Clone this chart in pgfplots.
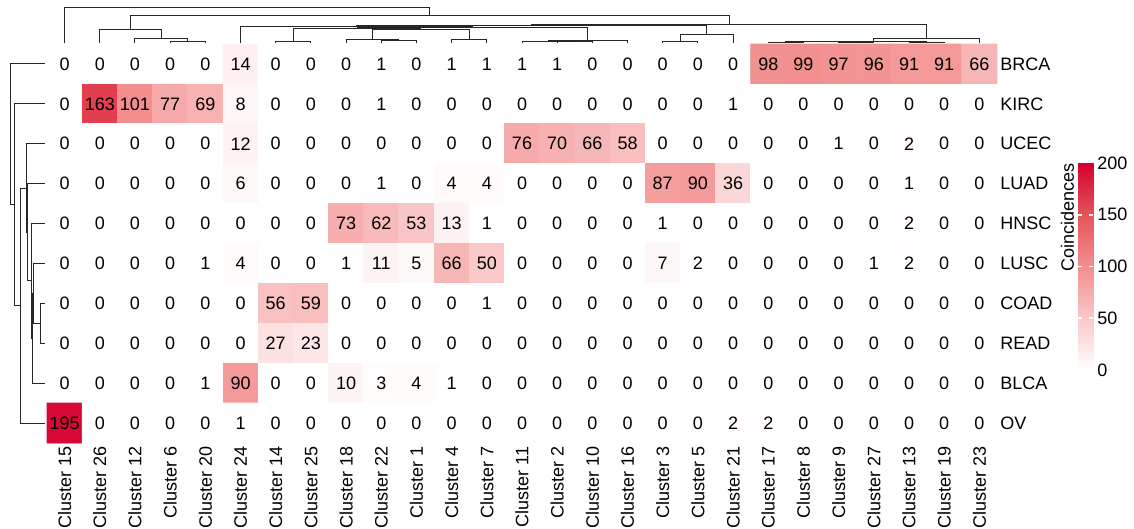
\documentclass[border=0pt]{standalone}
\usepackage{fontspec}
\setmainfont{Liberation Sans}
\usepackage{pgfplots}
\usepackage{pgfplotstable}
\pgfplotsset{compat=1.18}
\pgfplotsset{colormap={wr}{rgb255=(255,255,255) rgb255=(250,200,200) rgb255=(242,143,143) rgb255=(230,83,90) rgb255=(213,0,48)},
  dend/.style={black!85, line width=0.5pt, mark=none, solid}}
% heatmap values: x = column (Cluster order left to right), y = row (BRCA..OV top to bottom)
\pgfplotstableread[row sep=\\]{
x y v\\
0 0 0\\1 0 0\\2 0 0\\3 0 0\\4 0 0\\5 0 14\\6 0 0\\7 0 0\\8 0 0\\9 0 1\\10 0 0\\11 0 1\\12 0 1\\13 0 1\\14 0 1\\15 0 0\\16 0 0\\17 0 0\\18 0 0\\19 0 0\\20 0 98\\21 0 99\\22 0 97\\23 0 96\\24 0 91\\25 0 91\\26 0 66\\
0 1 0\\1 1 163\\2 1 101\\3 1 77\\4 1 69\\5 1 8\\6 1 0\\7 1 0\\8 1 0\\9 1 1\\10 1 0\\11 1 0\\12 1 0\\13 1 0\\14 1 0\\15 1 0\\16 1 0\\17 1 0\\18 1 0\\19 1 1\\20 1 0\\21 1 0\\22 1 0\\23 1 0\\24 1 0\\25 1 0\\26 1 0\\
0 2 0\\1 2 0\\2 2 0\\3 2 0\\4 2 0\\5 2 12\\6 2 0\\7 2 0\\8 2 0\\9 2 0\\10 2 0\\11 2 0\\12 2 0\\13 2 76\\14 2 70\\15 2 66\\16 2 58\\17 2 0\\18 2 0\\19 2 0\\20 2 0\\21 2 0\\22 2 1\\23 2 0\\24 2 2\\25 2 0\\26 2 0\\
0 3 0\\1 3 0\\2 3 0\\3 3 0\\4 3 0\\5 3 6\\6 3 0\\7 3 0\\8 3 0\\9 3 1\\10 3 0\\11 3 4\\12 3 4\\13 3 0\\14 3 0\\15 3 0\\16 3 0\\17 3 87\\18 3 90\\19 3 36\\20 3 0\\21 3 0\\22 3 0\\23 3 0\\24 3 1\\25 3 0\\26 3 0\\
0 4 0\\1 4 0\\2 4 0\\3 4 0\\4 4 0\\5 4 0\\6 4 0\\7 4 0\\8 4 73\\9 4 62\\10 4 53\\11 4 13\\12 4 1\\13 4 0\\14 4 0\\15 4 0\\16 4 0\\17 4 1\\18 4 0\\19 4 0\\20 4 0\\21 4 0\\22 4 0\\23 4 0\\24 4 2\\25 4 0\\26 4 0\\
0 5 0\\1 5 0\\2 5 0\\3 5 0\\4 5 1\\5 5 4\\6 5 0\\7 5 0\\8 5 1\\9 5 11\\10 5 5\\11 5 66\\12 5 50\\13 5 0\\14 5 0\\15 5 0\\16 5 0\\17 5 7\\18 5 2\\19 5 0\\20 5 0\\21 5 0\\22 5 0\\23 5 1\\24 5 2\\25 5 0\\26 5 0\\
0 6 0\\1 6 0\\2 6 0\\3 6 0\\4 6 0\\5 6 0\\6 6 56\\7 6 59\\8 6 0\\9 6 0\\10 6 0\\11 6 0\\12 6 1\\13 6 0\\14 6 0\\15 6 0\\16 6 0\\17 6 0\\18 6 0\\19 6 0\\20 6 0\\21 6 0\\22 6 0\\23 6 0\\24 6 0\\25 6 0\\26 6 0\\
0 7 0\\1 7 0\\2 7 0\\3 7 0\\4 7 0\\5 7 0\\6 7 27\\7 7 23\\8 7 0\\9 7 0\\10 7 0\\11 7 0\\12 7 0\\13 7 0\\14 7 0\\15 7 0\\16 7 0\\17 7 0\\18 7 0\\19 7 0\\20 7 0\\21 7 0\\22 7 0\\23 7 0\\24 7 0\\25 7 0\\26 7 0\\
0 8 0\\1 8 0\\2 8 0\\3 8 0\\4 8 1\\5 8 90\\6 8 0\\7 8 0\\8 8 10\\9 8 3\\10 8 4\\11 8 1\\12 8 0\\13 8 0\\14 8 0\\15 8 0\\16 8 0\\17 8 0\\18 8 0\\19 8 0\\20 8 0\\21 8 0\\22 8 0\\23 8 0\\24 8 0\\25 8 0\\26 8 0\\
0 9 195\\1 9 0\\2 9 0\\3 9 0\\4 9 0\\5 9 1\\6 9 0\\7 9 0\\8 9 0\\9 9 0\\10 9 0\\11 9 0\\12 9 0\\13 9 0\\14 9 0\\15 9 0\\16 9 0\\17 9 0\\18 9 0\\19 9 2\\20 9 2\\21 9 0\\22 9 0\\23 9 0\\24 9 0\\25 9 0\\26 9 0\\
}\heat
\newcommand{\fs}{\fontsize{9}{10.8}\selectfont}
\begin{document}
\begin{tikzpicture}
\useasboundingbox (0,0) rectangle (567pt,264.5pt);
% heatmap
\begin{axis}[at={(23.5pt,43pt)}, anchor=south west, scale only axis,
  width=475pt, height=199.5pt,
  xmin=-0.5, xmax=26.5, ymin=-0.5, ymax=9.5, y dir=reverse,
  axis line style={draw=none}, major tick length=0pt,
  font=\fs,
  xtick={0,...,26},
  xticklabels={Cluster 15,Cluster 26,Cluster 12,Cluster 6,Cluster 20,Cluster 24,Cluster 14,Cluster 25,Cluster 18,Cluster 22,Cluster 1,Cluster 4,Cluster 7,Cluster 11,Cluster 2,Cluster 10,Cluster 16,Cluster 3,Cluster 5,Cluster 21,Cluster 17,Cluster 8,Cluster 9,Cluster 27,Cluster 13,Cluster 19,Cluster 23},
  xticklabel style={rotate=90, anchor=east, inner sep=1.5pt, font=\fs},
  ytick={0,...,9},
  yticklabels={BRCA,KIRC,UCEC,LUAD,HNSC,LUSC,COAD,READ,BLCA,OV},
  yticklabel pos=right,
  yticklabel style={anchor=west, inner sep=1.5pt, font=\fs},
  colormap name=wr, point meta min=0, point meta max=200, clip=false]
\addplot[matrix plot*, mesh/cols=27, point meta=explicit]
  table[x=x, y=y, meta=v] {\heat};
\addplot[only marks, mark=none, point meta=explicit symbolic,
  nodes near coords, every node near coord/.append style={anchor=center, inner sep=0pt, font=\fs, text=black}]
  table[x=x, y=y, meta=v] {\heat};
\end{axis}
% colour bar
\begin{axis}[at={(539pt,79.5pt)}, anchor=south west, scale only axis,
  width=7.5pt, height=103.5pt, xmin=0, xmax=1, ymin=0, ymax=200,
  colormap name=wr, point meta min=0, point meta max=200,
  axis line style={draw=none}, xtick=\empty,
  ytick={0,50,100,150,200}, yticklabels={0,50,100,150,200},
  yticklabel pos=right, ytick pos=both, major tick length=0pt,
  yticklabel style={anchor=west, inner sep=2pt, font=\fs},
  extra y ticks={50,100,150}, extra y tick labels={},
  extra y tick style={major tick length=2pt, tick align=inside, tick style={white, line width=0.8pt}},
  axis on top]
\addplot[surf, shader=interp, mesh/cols=2, point meta=y] coordinates {(0,0) (1,0) (0,50) (1,50) (0,100) (1,100) (0,150) (1,150) (0,200) (1,200)};
\end{axis}
\node[rotate=90, anchor=east, font=\fs, inner sep=0pt] at (533.75pt,183pt) {Coincidences};
% dendrograms (pixel coordinates of the figure)
\begin{axis}[at={(0pt,0pt)}, anchor=south west, scale only axis,
  width=567pt, height=264.5pt, xmin=0, xmax=1134, ymin=0, ymax=529, y dir=reverse,
  hide axis, clip=false]
% column dendrogram
\addplot[dend] coordinates {(170.15,42.7) (170.15,41.7) (205.33,41.7) (205.33,42.7)};
\addplot[dend] coordinates {(134.96,42.7) (134.96,38.7) (187.74,38.7) (187.74,41.7)};
\addplot[dend] coordinates {(99.78,42.7) (99.78,29.3) (161.35,29.3) (161.35,38.7)};
\addplot[dend] coordinates {(275.70,42.7) (275.70,41.7) (310.89,41.7) (310.89,42.7)};
\addplot[dend] coordinates {(381.26,42.7) (381.26,41.0) (416.44,41.0) (416.44,42.7)};
\addplot[dend] coordinates {(346.07,42.7) (346.07,39.3) (398.85,39.3) (398.85,41.0)};
\addplot[dend] coordinates {(451.63,42.7) (451.63,39.3) (486.81,39.3) (486.81,42.7)};
\addplot[dend] coordinates {(372.46,39.3) (372.46,29.5) (469.22,29.5) (469.22,39.3)};
\addplot[dend] coordinates {(293.30,41.7) (293.30,29.0) (420.84,29.0) (420.84,29.5)};
\addplot[dend] coordinates {(557.19,42.7) (557.19,41.7) (592.37,41.7) (592.37,42.7)};
\addplot[dend] coordinates {(522.0,42.7) (522.0,41.2) (574.78,41.2) (574.78,41.7)};
\addplot[dend] coordinates {(548.39,41.2) (548.39,40.7) (627.56,40.7) (627.56,42.7)};
\addplot[dend] coordinates {(357.07,29.0) (357.07,27.9) (587.98,27.9) (587.98,40.7)};
\addplot[dend] coordinates {(240.52,42.7) (240.52,26.7) (472.52,26.7) (472.52,27.9)};
\addplot[dend] coordinates {(662.74,42.7) (662.74,41.7) (697.93,41.7) (697.93,42.7)};
\addplot[dend] coordinates {(680.34,41.7) (680.34,35.0) (733.11,35.0) (733.11,42.7)};
\addplot[dend] coordinates {(356.52,26.7) (356.52,25.4) (706.72,25.4) (706.72,35.0)};
\addplot[dend] coordinates {(768.30,42.7) (768.30,42.2) (803.48,42.2) (803.48,42.7)};
\addplot[dend] coordinates {(838.67,42.7) (838.67,42.2) (873.85,42.2) (873.85,42.7)};
\addplot[dend] coordinates {(909.04,42.7) (909.04,42.2) (944.22,42.2) (944.22,42.7)};
\addplot[dend] coordinates {(785.89,42.2) (785.89,41.9) (856.26,41.9) (856.26,42.2)};
\addplot[dend] coordinates {(821.08,41.9) (821.08,41.5) (926.63,41.5) (926.63,42.2)};
\addplot[dend] coordinates {(873.85,41.5) (873.85,38.3) (979.41,38.3) (979.41,42.7)};
\addplot[dend] coordinates {(531.62,25.4) (531.62,24.3) (926.63,24.3) (926.63,38.3)};
\addplot[dend] coordinates {(130.57,29.3) (130.57,16.0) (729.12,16.0) (729.12,24.3)};
\addplot[dend] coordinates {(64.59,42.7) (64.59,7.3) (429.85,7.3) (429.85,16.0)};
% row dendrogram
\addplot[dend] coordinates {(45,303.35) (40.7,303.35) (40.7,343.25) (45,343.25)};
\addplot[dend] coordinates {(45,263.45) (33.3,263.45) (33.3,323.3) (40.7,323.3)};
\addplot[dend] coordinates {(33.3,293.38) (32.3,293.38) (32.3,383.15) (45,383.15)};
\addplot[dend] coordinates {(45,223.55) (31.5,223.55) (31.5,338.26) (32.3,338.26)};
\addplot[dend] coordinates {(45,183.65) (27.3,183.65) (27.3,280.91) (31.5,280.91)};
\addplot[dend] coordinates {(45,143.75) (26.0,143.75) (26.0,232.28) (27.3,232.28)};
\addplot[dend] coordinates {(26.0,188.02) (20.0,188.02) (20.0,423.05) (45,423.05)};
\addplot[dend] coordinates {(45,103.85) (14.0,103.85) (14.0,305.53) (20.0,305.53)};
\addplot[dend] coordinates {(45,63.95) (10.7,63.95) (10.7,204.69) (14.0,204.69)};
\end{axis}
\end{tikzpicture}
\end{document}
